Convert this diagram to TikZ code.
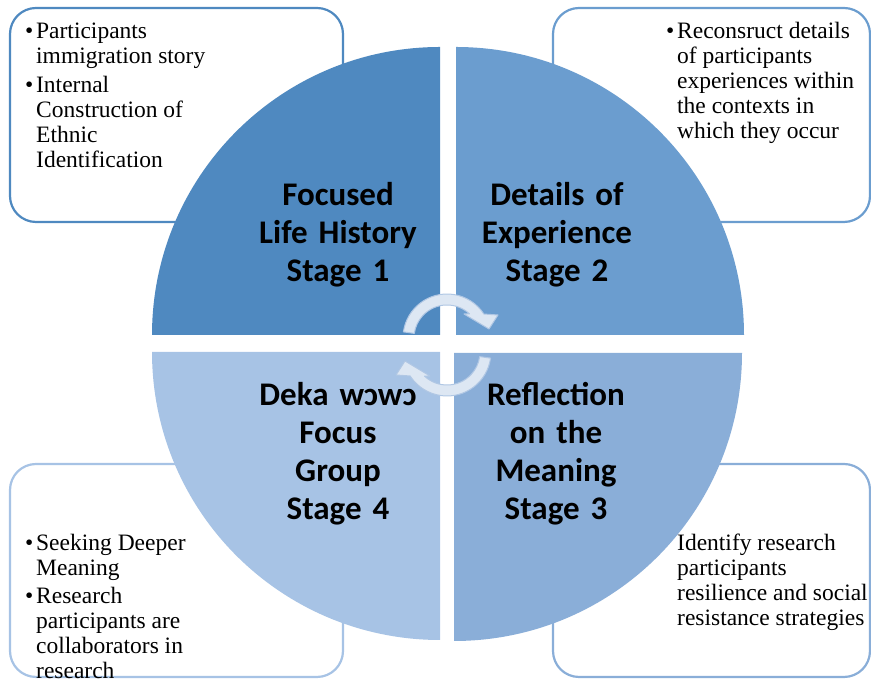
\documentclass[tikz,border=0pt]{standalone}
\usepackage{fontspec}
\setmainfont{Liberation Serif}
\newfontfamily\stagefont{Carlito}

\definecolor{quadA}{RGB}{79,137,192}
\definecolor{quadB}{RGB}{107,157,207}
\definecolor{quadC}{RGB}{138,174,216}
\definecolor{quadD}{RGB}{167,195,229}
\definecolor{cycfill}{RGB}{221,231,243}
\definecolor{cycline}{RGB}{176,199,228}

% bullet hung into the left margin of the entry
\newcommand\bmark{\leavevmode\llap{\makebox[11pt][l]{\textbullet}}}
% ragged block of entries, indented past the bullets
\newcommand\notes[2][11pt]{\parbox[t]{250pt}{\raggedright\leftskip=#1\relax
	\rule{0pt}{18pt}#2}}

\begin{document}
\begin{tikzpicture}
		[x=1pt,y=1pt,
		notebox/.style={rounded corners=26pt,line width=2.2pt,fill=white},
		notetext/.style={anchor=north west,inner sep=0pt,
			font=\fontsize{23.5}{25}\selectfont},
		quad/.style={draw=none},
		stage/.style={anchor=north,inner sep=0pt,text width=230pt,align=center,
			font=\stagefont\bfseries\fontsize{33}{38}\selectfont},
		cyc/.style={fill=cycfill,draw=cycline,line width=1pt,line join=round}
		]
		\useasboundingbox (0,0) rectangle (871,679);
		\clip (0,0) rectangle (871,679);

		\draw[notebox,draw=quadA] (10,671) rectangle (343,457);
		\draw[notebox,draw=quadB] (553,671) rectangle (870,457);
		\draw[notebox,draw=quadD] (10,215) rectangle (343,2);
		\draw[notebox,draw=quadC] (553,215) rectangle (870,2);

		\fill[quad,quadA] (440,344) -- ++(-288,0) arc[start angle=180,end angle=90,radius=288] -- cycle;
		\fill[quad,quadB] (456,344) -- ++(0,288) arc[start angle=90,end angle=0,radius=288] -- cycle;
		\fill[quad,quadC] (454,326) -- ++(288,0) arc[start angle=0,end angle=-90,radius=288] -- cycle;
		\fill[quad,quadD] (440,327) -- ++(0,-288) arc[start angle=270,end angle=180,radius=288] -- cycle;

\begin{scope}[shift={(447,341)}]
	\path[cyc] (172:44) arc[start angle=172,end angle=33,radius=44] -- (51,23) -- (42,9)
		-- (17,24) -- (47:33) arc[start angle=47,end angle=172,radius=33] -- cycle;
\end{scope}
\begin{scope}[shift={(447,327)},rotate=180]
	\path[cyc] (172:44) arc[start angle=172,end angle=33,radius=44] -- (51,23) -- (42,9)
		-- (17,24) -- (47:33) arc[start angle=47,end angle=172,radius=33] -- cycle;
\end{scope}

\node[stage] (life) at (338,499) {\rule{0pt}{25pt}Focused\\Life History\\Stage 1};
\node[stage] (detail) at (557,499) {\rule{0pt}{25pt}Details of\\Experience\\Stage 2};
\node[stage] (reflect) at (556,299) {\rule{0pt}{25pt}Reflection\\on the\\Meaning\\Stage 3};
\node[stage] (focus) at (338,299) {\rule{0pt}{25pt}Deka wɔwɔ\\Focus\\Group\\Stage 4};

\node[notetext] (story) at (25,659) {\notes{\bmark Participants\\immigration story\\[4pt]
	\bmark Internal\\Construction of\\Ethnic\\Identification}};
\node[notetext] (context) at (666,659) {\notes{\bmark Reconsruct details\\of participants\\experiences within\\the contexts in\\which they occur}};
\node[notetext] (meaning) at (25,147) {\notes{\bmark Seeking Deeper\\Meaning\\[3pt]
	\bmark Research\\participants are\\collaborators in\\research}};
\node[notetext] (resist) at (677,147) {\notes[0pt]{Identify research\\participants\\resilience and social\\resistance strategies}};
	\end{tikzpicture}
\end{document}
